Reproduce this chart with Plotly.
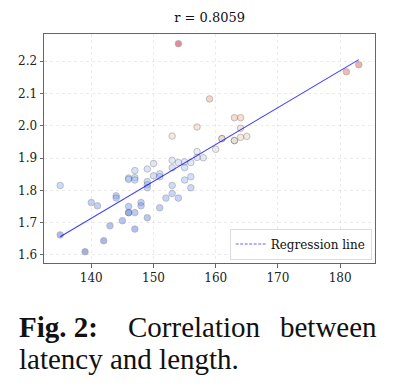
import numpy as np
import plotly.graph_objects as go

# Data
length = [135, 135, 139, 140, 141, 142, 143, 144, 144, 145,
          146, 146, 146, 146, 146, 147, 147, 147, 147, 147,
          148, 148, 149, 149, 149, 149, 149, 150, 150, 151,
          151, 151, 152, 153, 153, 153, 153, 153, 154, 154,
          154, 155, 155, 155, 156, 156, 156, 157, 157, 157,
          158, 159, 160, 161, 161, 163, 163, 163, 164, 164,
          164, 165, 181, 183]
latency = [1.815, 1.662, 1.610, 1.762, 1.752, 1.644, 1.690, 1.783, 1.776, 1.706,
           1.838, 1.834, 1.750, 1.731, 1.731, 1.861, 1.839, 1.832, 1.731, 1.680,
           1.762, 1.752, 1.866, 1.827, 1.817, 1.808, 1.715, 1.883, 1.845, 1.851,
           1.842, 1.746, 1.776, 1.968, 1.893, 1.870, 1.815, 1.790, 2.254, 1.886,
           1.776, 1.888, 1.870, 1.832, 1.886, 1.842, 1.808, 1.996, 1.920, 1.902,
           1.901, 2.083, 1.927, 1.960, 1.960, 2.025, 1.954, 1.954, 2.025, 1.992,
           1.964, 1.967, 2.167, 2.189]
title_text = "r = 0.8059"
legend_label = "Regression line"
x_ticks = [140, 150, 160, 170, 180]
y_ticks = [1.6, 1.7, 1.8, 1.9, 2.0, 2.1, 2.2]

coolwarm = [[0.0, "#3b4cc0"], [0.125, "#5977e3"], [0.25, "#7b9ff9"], [0.375, "#9ebeff"],
            [0.5, "#dddcdc"], [0.625, "#f7b89c"], [0.75, "#f4987a"],
            [0.875, "#e0654f"], [1.0, "#b40426"]]

xa = np.array(length, dtype=float)
ya = np.array(latency, dtype=float)
slope, intercept = np.polyfit(xa, ya, 1)
xl = np.array([xa.min(), xa.max()])
yl = slope * xl + intercept

serif = "DejaVu Serif, Liberation Serif, serif"
fig = go.Figure()
fig.add_trace(go.Scatter(
    x=length, y=latency, mode="markers", showlegend=False,
    marker=dict(size=6.5, color=latency, colorscale=coolwarm,
                cmin=min(latency), cmax=max(latency), opacity=0.45,
                line=dict(color="#444444", width=0.7)),
))
fig.add_trace(go.Scatter(
    x=xl, y=yl, mode="lines", showlegend=False,
    line=dict(color="rgba(0,0,255,0.75)", width=1.1),
))
fig.add_trace(go.Scatter(
    x=[None], y=[None], mode="lines", name=legend_label,
    line=dict(color="rgba(0,0,255,0.6)", width=1.1, dash="3px,1.5px"),
))

axis_common = dict(showline=True, mirror=True, linecolor="#666666", linewidth=1,
                   ticks="outside", ticklen=3.5, tickcolor="#666666", tickwidth=0.8,
                   showgrid=True, gridcolor="rgba(0,0,0,0.08)", griddash="dot",
                   gridwidth=0.8, zeroline=False,
                   tickfont=dict(family=serif, size=12, color="#222222"))

fig.update_layout(
    width=396, height=390,
    margin=dict(l=44, r=21, t=34, b=127),
    paper_bgcolor="white", plot_bgcolor="white",
    title=dict(text=title_text, x=0.5295, xanchor="center", y=0.954, yanchor="middle",
               font=dict(family=serif, size=13, color="#111111")),
    xaxis=dict(range=[132.4, 185.6], tickvals=x_ticks, **axis_common),
    yaxis=dict(range=[1.575, 2.284], tickvals=y_ticks, tickformat=".1f", **axis_common),
    legend=dict(x=0.99, y=0.015, xanchor="right", yanchor="bottom",
                bgcolor="rgba(255,255,255,0.85)", bordercolor="#dddddd", borderwidth=1,
                font=dict(family=serif, size=12, color="#111111"),
                itemwidth=30, tracegroupgap=0),
)

cap_font = dict(family="Liberation Serif", size=29, color="#111111")
fig.add_annotation(text="<b>Fig. 2:</b>", xref="paper", yref="paper",
                   x=(17 - 44) / 331, y=(390 - 127 - 327) / 229, xanchor="left", yanchor="middle",
                   showarrow=False, font=cap_font)
fig.add_annotation(text="Correlation", xref="paper", yref="paper",
                   x=(126 - 44) / 331, y=(390 - 127 - 327) / 229, xanchor="left", yanchor="middle",
                   showarrow=False, font=cap_font)
fig.add_annotation(text="between", xref="paper", yref="paper",
                   x=(379 - 44) / 331, y=(390 - 127 - 327) / 229, xanchor="right", yanchor="middle",
                   showarrow=False, font=cap_font)
fig.add_annotation(text="latency and length.", xref="paper", yref="paper",
                   x=(17 - 44) / 331, y=(390 - 127 - 359) / 229, xanchor="left", yanchor="middle",
                   showarrow=False, font=cap_font)

fig.write_html("out.html")
